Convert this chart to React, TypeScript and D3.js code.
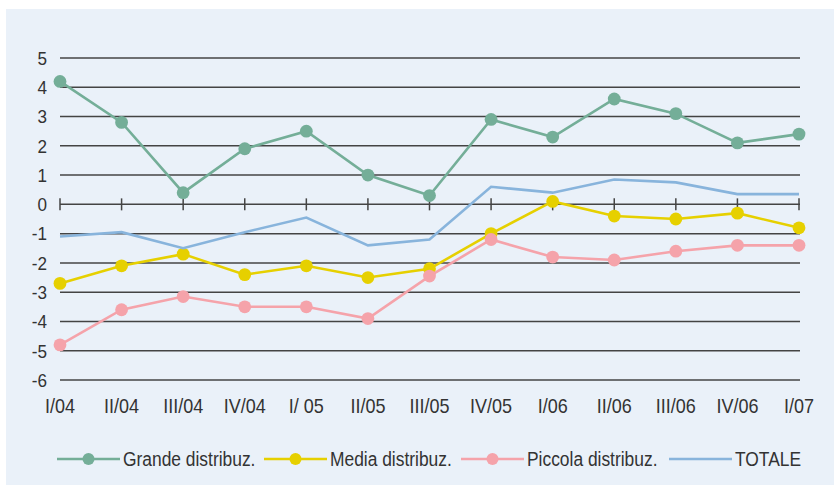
import React from "react";
import * as d3 from "d3";

const categories = ["I/04", "II/04", "III/04", "IV/04", "I/ 05", "II/05", "III/05", "IV/05", "I/06", "II/06", "III/06", "IV/06", "I/07"];
const grande = [4.2, 2.8, 0.4, 1.9, 2.5, 1.0, 0.3, 2.9, 2.3, 3.6, 3.1, 2.1, 2.4];
const media = [-2.7, -2.1, -1.7, -2.4, -2.1, -2.5, -2.2, -1.0, 0.1, -0.4, -0.5, -0.3, -0.8];
const piccola = [-4.8, -3.6, -3.15, -3.5, -3.5, -3.9, -2.45, -1.2, -1.8, -1.9, -1.6, -1.4, -1.4];
const totale = [-1.1, -0.95, -1.5, -0.95, -0.45, -1.4, -1.2, 0.6, 0.4, 0.85, 0.75, 0.35, 0.35];
const yTicks = [5, 4, 3, 2, 1, 0, -1, -2, -3, -4, -5, -6];

const seriesNames = ["Grande distribuz.", "Media distribuz.", "Piccola distribuz.", "TOTALE"];
const seriesValues = [grande, media, piccola, totale];
const seriesColors = ["#74AE98", "#E6D000", "#F5A3AA", "#88B4DC"];
const seriesMarkers = [true, true, true, false];

const FONT = "'Liberation Sans', Arial, sans-serif";

function Txt({ x, y, size, anchor, sx, children }: { x: number; y: number; size: number; anchor?: string; sx: number; children: React.ReactNode }) {
  return (
    <text
      transform={`translate(${x},${y}) scale(${sx},1)`}
      dy="0.36em"
      textAnchor={anchor || "start"}
      fontFamily={FONT}
      fontSize={size}
      fill="#333"
    >
      {children}
    </text>
  );
}

export default function App() {
  const W = 834, H = 487;
  const x = d3.scalePoint<string>().domain(categories).range([60, 799]);
  const y = d3.scaleLinear().domain([-6, 5]).range([380, 58]);
  const line = d3.line<number>().x((_, i) => x(categories[i]) as number).y((d) => y(d));

  const legendX = [57, 264, 461, 669];

  return (
    <svg width={W} height={H} style={{ position: "absolute", left: 0, top: 0 }}>
      <rect x={0} y={0} width={W} height={H} fill="#ffffff" />
      <rect x={6} y={9} width={W - 6} height={476} fill="#EAF1F9" />
      {yTicks.map((t) => (
        <g key={t}>
          <line x1={x(categories[0])} x2={800} y1={y(t)} y2={y(t)} stroke="#444" strokeWidth={1.5} />
          <Txt x={47} y={y(t)} size={19} sx={0.9} anchor="end">{t}</Txt>
        </g>
      ))}
      {categories.map((c) => (
        <g key={c}>
          <line x1={x(c)} x2={x(c)} y1={y(0) - 6} y2={y(0) + 6} stroke="#444" strokeWidth={1.5} />
          <Txt x={x(c) as number} y={406} size={20} sx={0.9} anchor="middle">{c}</Txt>
        </g>
      ))}
      {seriesValues.map((vals, si) => (
        <g key={si}>
          <path d={line(vals) || ""} fill="none" stroke={seriesColors[si]} strokeWidth={2.6} />
          {seriesMarkers[si] && vals.map((v, i) => (
            <circle key={i} cx={x(categories[i])} cy={y(v)} r={6.4} fill={seriesColors[si]} />
          ))}
        </g>
      ))}
      {seriesNames.map((n, si) => (
        <g key={n} transform={`translate(${legendX[si]},459)`}>
          <line x1={0} x2={63} y1={0} y2={0} stroke={seriesColors[si]} strokeWidth={2.6} />
          {seriesMarkers[si] && <circle cx={31.5} cy={0} r={6} fill={seriesColors[si]} />}
          <Txt x={66} y={0} size={20} sx={0.87}>{n}</Txt>
        </g>
      ))}
    </svg>
  );
}
